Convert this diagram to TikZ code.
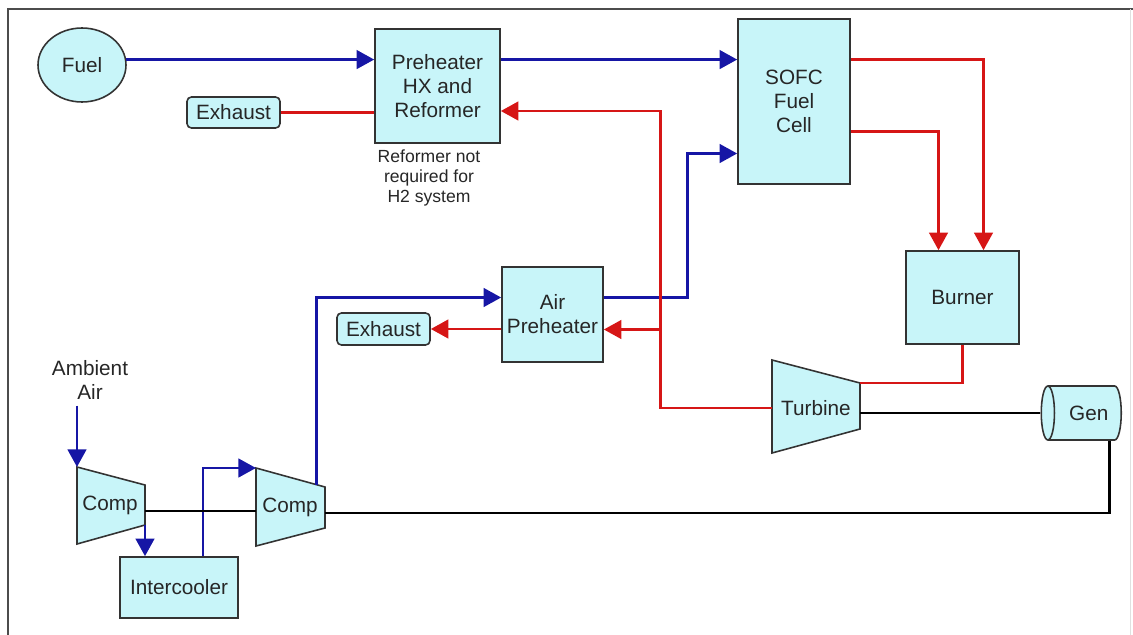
\documentclass[tikz,border=0pt]{standalone}
\usepackage{fontspec}
\setmainfont{Liberation Sans}
\usetikzlibrary{arrows.meta,shapes.geometric,calc}
\definecolor{airblue}{RGB}{22,22,165}
\definecolor{gasred}{RGB}{214,22,22}
\definecolor{unitfill}{RGB}{200,245,249}

\begin{document}
\begin{tikzpicture}[x=0.02cm,y=-0.02cm,
    font=\fontsize{11.8}{13.6}\selectfont,text=black!85,
    unit/.style={draw=black!80,fill=unitfill,line width=0.9pt},
    box/.style={unit,align=center,inner sep=0pt},
    tag/.style={unit,rounded corners=2.5pt,inner sep=0pt},
    air/.style={draw=airblue,line width=1.7pt},
    gas/.style={draw=gasred,line width=1.7pt},
    shaft/.style={draw=black,line width=1.7pt},
    >={Triangle[length=10pt,width=10.5pt]}]
    \useasboundingbox (0,0) rectangle (1133,635);
    \draw[black!70,line width=1pt] (8,635) -- (8,9) -- (1133,9);
    \draw[black!12] (1130,9) -- (1130,635);

    \node[unit,ellipse,minimum width=1.76cm,minimum height=1.48cm] (fuel) at (82,65) {Fuel};
    \node[tag,minimum width=1.86cm,minimum height=0.62cm] (exh1) at (233.5,112.5) {Exhaust};
    \node[box,minimum width=2.5cm,minimum height=2.28cm] (pre) at (437.5,86) {Preheater\\HX and\\Reformer};
    \node[align=center,font=\fontsize{10}{11.3}\selectfont] (note) at (429,178) {Reformer not\\required for\\H2 system};
    \node[box,minimum width=2.24cm,minimum height=3.3cm] (sofc) at (794,101.5) {SOFC\\Fuel\\Cell};
    \node[box,minimum width=2.26cm,minimum height=1.86cm] (burner) at (962.5,297.5) {Burner};
    \node[box,minimum width=2.02cm,minimum height=1.9cm] (airpre) at (552.5,314.5) {Air\\Preheater};
    \node[tag,minimum width=1.86cm,minimum height=0.64cm] (exh2) at (383.5,329) {Exhaust};
    \node[box,minimum width=2.36cm,minimum height=1.22cm] (cooler) at (179,587.5) {Intercooler};
    \node[unit,cylinder,shape border rotate=180,aspect=0.5,minimum width=1.08cm,minimum height=1.6cm] (gen) at (1087,413) {\hspace{2pt}Gen};
    \node[align=center] (amb) at (90,380) {Ambient\\Air};

    \draw[unit] (77,467) coordinate (c1a) -- (145,485) coordinate (c1b)
        -- (145,525) coordinate (c1c) -- (77,544) -- cycle;
    \draw[unit] (256,468) coordinate (c2a) -- (325,487) coordinate (c2b)
        -- (325,528) coordinate (c2c) -- (256,546) -- cycle;
    \draw[unit] (772,360) -- (860,383) coordinate (t1)
        -- (860,429) -- (772,453) -- cycle;
    \node (comp1) at (110,505) {Comp};
    \node (comp2) at (290,507) {Comp};
    \node (turb) at (816,408) {Turbine};
    \coordinate (s1) at (145,511);
    \coordinate (s2) at (325,513);
    \coordinate (t2) at (772,408);
    \coordinate (t3) at (860,413);
    \coordinate (tee) at ($(airpre.east)+(57,15)$);

    \draw[air,->] (fuel.7) -- (fuel.7 -| pre.west);
    \draw[air,->] (pre.east |- fuel.7) -- (sofc.west |- fuel.7);
    \draw[air,->] ($(airpre.east)+(0,-17)$) -| ($(sofc.west)+(-50,52)$) -- ($(sofc.west)+(0,52)$);
    \draw[air,->] (amb.south -| c1a) -- (c1a);
    \draw[air,->] (c1c) -- (c1c |- cooler.north);
    \draw[air,->] ($(cooler.north)+(24,0)$) |- (c2a);
    \draw[air,->] ($(c2a)!0.87!(c2b)$) |- ($(airpre.west)+(0,-17)$);

    \draw[gas] (exh1.east) -- (exh1.east -| pre.west);
    \draw[gas,->] (t2) -| ($(tee |- pre.east)+(0,25)$) -- ($(pre.east)+(0,25)$);
    \draw[gas,->] (tee) -- (tee -| airpre.east);
    \draw[gas,->] (airpre.west |- exh2.east) -- (exh2.east);
    \draw[gas,->] (sofc.east |- fuel.7) -| ($(burner.north)+(21,0)$);
    \draw[gas,->] ($(sofc.east)+(0,30)$) -| ($(burner.north)+(-24,0)$);
    \draw[gas] (burner.south) |- (t1);

    \draw[shaft] (s1) -- (s1 -| c2a);
    \draw[shaft] (s2) -| ($(gen.south)+(22,0)$);
    \draw[shaft] (t3) -- (t3 -| gen.west);
\end{tikzpicture}
\end{document}
